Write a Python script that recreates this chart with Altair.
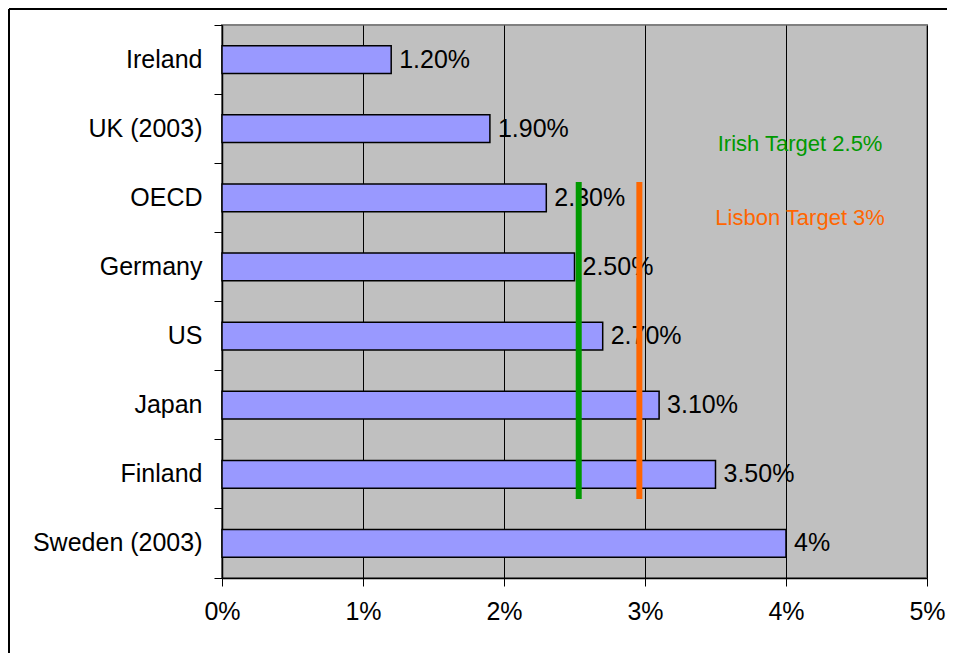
import altair as alt
import pandas as pd

countries = ["Ireland", "UK (2003)", "OECD", "Germany", "US", "Japan", "Finland", "Sweden (2003)"]
values = [1.2, 1.9, 2.3, 2.5, 2.7, 3.1, 3.5, 4.0]
value_labels = ["1.20%", "1.90%", "2.30%", "2.50%", "2.70%", "3.10%", "3.50%", "4%"]

target_names = ["Irish Target 2.5%", "Lisbon Target 3%"]
target_positions = [2.53, 2.96]
target_colors = ["#009900", "#FF6600"]

x_ticks = [0, 1, 2, 3, 4, 5]

FONT = "Liberation Sans"
W, H = 705, 553
FS = 25

df = pd.DataFrame({"country": countries, "value": values, "label": value_labels})
tdf = pd.DataFrame({"name": target_names, "pos": target_positions, "color": target_colors})

y_enc = alt.Y(
    "country:N",
    sort=countries,
    scale=alt.Scale(paddingInner=0, paddingOuter=0),
    axis=alt.Axis(
        title=None, bandPosition=1, tickExtra=True, labelFontSize=FS, labelFont=FONT,
        labelColor="black", tickColor="black", tickSize=8, labelPadding=12,
        domainColor="black", domainWidth=1.5, grid=False,
    ),
)
x_enc = alt.X(
    "value:Q",
    scale=alt.Scale(domain=[0, 5], nice=False),
    axis=alt.Axis(
        title=None, values=x_ticks, labelExpr="datum.value + '%'", labelFontSize=FS,
        labelFont=FONT, labelColor="black", tickColor="black", tickSize=8, labelPadding=13,
        labelFlush=False, domainColor="black", domainWidth=1.5, grid=True,
        gridColor="black", gridWidth=1, gridOpacity=1,
    ),
)

bars = alt.Chart(df).mark_bar(
    color="#9999FF", stroke="black", strokeWidth=1.5, height={"band": 0.4}
).encode(y=y_enc, x=x_enc)

labels = alt.Chart(df).mark_text(
    align="left", baseline="middle", dx=8, fontSize=FS, font=FONT, color="black"
).encode(y=alt.Y("country:N", sort=countries), x="value:Q", text="label:N")

rules = alt.Chart(tdf).mark_rule(strokeWidth=6).encode(
    x="pos:Q",
    y=alt.value(157),
    y2=alt.value(474),
    color=alt.Color("color:N", scale=None),
)

ann1 = alt.Chart(tdf.iloc[[0]]).mark_text(
    align="center", baseline="middle", fontSize=22, font=FONT
).encode(
    x=alt.datum(4.1), y=alt.value(119), text="name:N", color=alt.Color("color:N", scale=None)
)
ann2 = alt.Chart(tdf.iloc[[1]]).mark_text(
    align="center", baseline="middle", fontSize=22, font=FONT
).encode(
    x=alt.datum(4.1), y=alt.value(193), text="name:N", color=alt.Color("color:N", scale=None)
)

frame_df = pd.DataFrame({"a": [0]})
frame_top = alt.Chart(frame_df).mark_rule(color="black", strokeWidth=2).encode(
    x=alt.value(-213), x2=alt.value(W + 20), y=alt.value(-16)
)
frame_left = alt.Chart(frame_df).mark_rule(color="black", strokeWidth=2).encode(
    x=alt.value(-213), y=alt.value(-16), y2=alt.value(H + 75)
)

chart = alt.layer(bars, labels, rules, ann1, ann2, frame_top, frame_left).properties(
    width=W, height=H,
    autosize=alt.AutoSizeParams(type="none"),
    padding={"left": 214, "top": 17, "right": 20, "bottom": 75},
    background="white",
).configure_view(fill="#C0C0C0", stroke="#808080", strokeWidth=2)

chart.save("out.html", embed_options={"renderer": "svg", "actions": False})
